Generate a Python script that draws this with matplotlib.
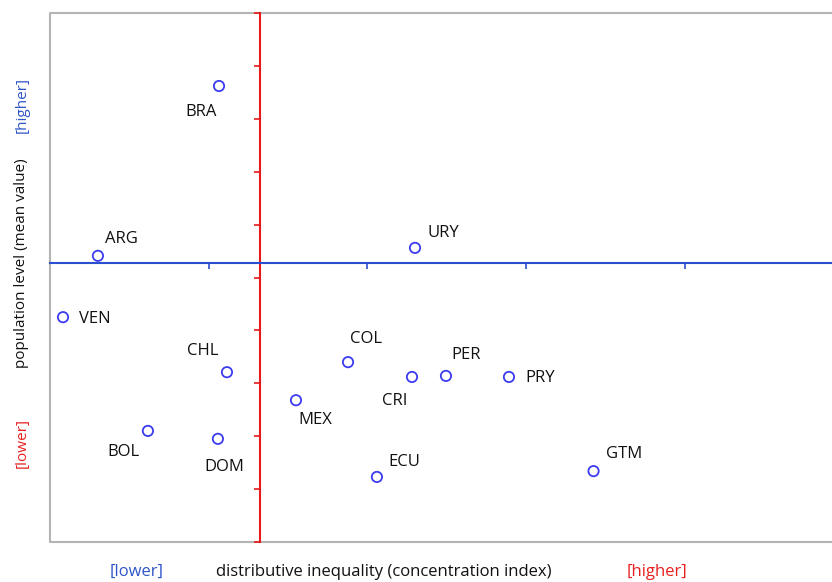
import matplotlib.pyplot as plt
from matplotlib.ticker import MultipleLocator

# chart values, in arbitrary units (x: 1 unit per blue tick, y: 1 unit per red tick)
countries = ['BRA', 'ARG', 'URY', 'VEN', 'CHL', 'COL', 'CRI',
             'PER', 'PRY', 'MEX', 'BOL', 'DOM', 'ECU', 'GTM']
inequality = [1.065, 0.302, 2.300, 0.082, 1.115, 1.878, 2.281,
              2.495, 2.892, 1.550, 0.617, 1.058, 2.060, 3.425]
level = [8.62, 5.41, 5.56, 4.25, 3.21, 3.40, 3.12,
         3.14, 3.12, 2.68, 2.10, 1.95, 1.23, 1.34]
# label offsets (pixels) relative to each point
label_dx = [-18, 24, 28, 32, -24, 18, -17, 20, 31, 19, -24, 6, 27, 31]
label_dy = [-26, 17, 15, -2, 21, 23, -24, 21, -1, -20, -21, -28, 15, 17]

x_cross = 1.323   # red vertical line
y_cross = 5.27    # blue horizontal line
x_ticks = [1, 2, 3, 4]

plt.rcParams['font.family'] = ['Open Sans', 'DejaVu Sans']

fig = plt.figure(figsize=(8.32, 5.82), dpi=100)
ax = fig.add_axes([50 / 832, 1 - 542 / 582, 1 - 50 / 832, (542 - 13) / 582])
ax.set_xlim(0, (832 - 50) / 158.7)
ax.set_ylim(0, 10)

# gray frame (right side cropped off in the original)
ax.plot([1, 0, 0, 1], [1, 1, 0, 0], transform=ax.transAxes, color='#b4b4b4',
        lw=1.5, clip_on=False, zorder=1)

# spines become the crossing axes
ax.spines['left'].set_position(('data', x_cross))
ax.spines['bottom'].set_position(('data', y_cross))
ax.spines['left'].set_color('#e8191b')
ax.spines['bottom'].set_color('#2a4fd0')
ax.spines['left'].set_linewidth(1.5)
ax.spines['bottom'].set_linewidth(1.5)
ax.spines['top'].set_visible(False)
ax.spines['right'].set_visible(False)

ax.set_xticks(x_ticks)
ax.yaxis.set_major_locator(MultipleLocator(1))
ax.tick_params(axis='x', direction='out', length=4.5, width=1.2,
               color='#2a4fd0', labelbottom=False)
ax.tick_params(axis='y', direction='out', length=4.5, width=1.2,
               color='#e8191b', labelleft=False)

ax.scatter(inequality, level, s=55, facecolors='none', edgecolors='#3b3bf0',
           linewidths=1.3, zorder=3, clip_on=False)

for name, x, y, dx, dy in zip(countries, inequality, level, label_dx, label_dy):
    ax.annotate(name, (x, y), xytext=(dx, dy), textcoords='offset pixels',
                ha='center', va='center', fontsize=12, color='#111111')

# axis titles
fig.text(22 / 832, 1 - 105 / 582, '[higher]', rotation=90, color='#2f55c8',
         ha='center', va='center', fontsize=11)
fig.text(22 / 832, 1 - 263 / 582, 'population level (mean value)', rotation=90,
         color='#111111', ha='center', va='center', fontsize=11)
fig.text(22 / 832, 1 - 443 / 582, '[lower]', rotation=90, color='#e82020',
         ha='center', va='center', fontsize=11)

fig.text(137 / 832, 1 - 572 / 582, '[lower]', color='#2f55c8',
         ha='center', va='center', fontsize=12)
fig.text(384 / 832, 1 - 572 / 582, 'distributive inequality (concentration index)',
         color='#111111', ha='center', va='center', fontsize=12)
fig.text(657 / 832, 1 - 572 / 582, '[higher]', color='#e82020',
         ha='center', va='center', fontsize=12)

fig.savefig('out.png', dpi=100)
